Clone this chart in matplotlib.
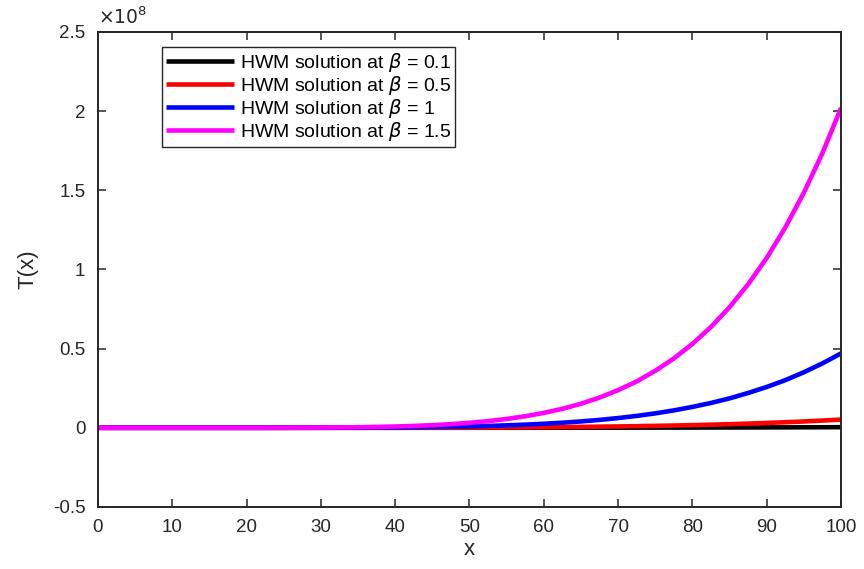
import matplotlib
matplotlib.use("Agg")
import matplotlib.pyplot as plt
from matplotlib.ticker import FuncFormatter, MultipleLocator

plt.rcParams['font.family'] = ['Liberation Sans', 'DejaVu Sans']
plt.rcParams['mathtext.fontset'] = 'dejavusans'

# x grid
x = [0, 2.5, 5, 7.5, 10, 12.5, 15, 17.5, 20, 22.5, 25, 27.5, 30, 32.5, 35, 37.5,
     40, 42.5, 45, 47.5, 50, 52.5, 55, 57.5, 60, 62.5, 65, 67.5, 70, 72.5, 75,
     77.5, 80, 82.5, 85, 87.5, 90, 92.5, 95, 97.5, 100]

# values in units of 1e8
t_b01 = [0, 0, 0, 0, 0, 0, 0, 0, 0, 0, 0, 0, 0, 0, 0, 0,
         0.0001, 0.0001, 0.0002, 0.0002, 0.00025, 0.0003, 0.0004, 0.0004, 0.0005, 0.0006,
         0.0007, 0.0008, 0.001, 0.0011, 0.0013, 0.0014, 0.0016, 0.0019, 0.0021, 0.0023,
         0.0026, 0.0029, 0.0033, 0.0036, 0.004]
t_b05 = [0, 0, 0, 0, 0, 0, 0, 0, 0, 0, 0, 0, 0.0001, 0.0002, 0.0003, 0.0004,
         0.0005, 0.0007, 0.001, 0.0013, 0.0016, 0.0021, 0.0026, 0.0033, 0.004, 0.005,
         0.006, 0.0073, 0.0087, 0.0104, 0.0123, 0.0145, 0.017, 0.0199, 0.023, 0.0267,
         0.0307, 0.0352, 0.040, 0.0458, 0.052]
t_b1 = [0, 0, 0, 0, 0, 0, 0, 0, 0, 0, 0.0001, 0.0003, 0.0005, 0.0008, 0.0012, 0.0018,
        0.0025, 0.0036, 0.005, 0.0068, 0.009, 0.0119, 0.0156, 0.020, 0.0256, 0.0323,
        0.0403, 0.050, 0.0616, 0.0752, 0.0912, 0.110, 0.132, 0.157, 0.186, 0.220,
        0.258, 0.301, 0.351, 0.407, 0.47]
t_b15 = [0, 0, 0, 0, 0, 0, 0, 0, 0, 0, 0.0005, 0.0009, 0.0015, 0.0024, 0.0037, 0.0056,
         0.0083, 0.0119, 0.0168, 0.0232, 0.0316, 0.0423, 0.0559, 0.073, 0.0942, 0.120,
         0.152, 0.191, 0.238, 0.293, 0.36, 0.438, 0.53, 0.637, 0.762, 0.907,
         1.073, 1.265, 1.485, 1.735, 2.02]

labels = [r'HWM solution at $\beta$ = 0.1', r'HWM solution at $\beta$ = 0.5',
          r'HWM solution at $\beta$ = 1', r'HWM solution at $\beta$ = 1.5']
colors = ['#000000', '#ff0000', '#0000ff', '#ff00ff']
scale = 1e8

fig = plt.figure(figsize=(8.64, 5.69), dpi=100)
ax = fig.add_axes([0.1134, 0.109, 0.86, 0.8348])

for ys, lab, c in zip([t_b01, t_b05, t_b1, t_b15], labels, colors):
    ax.plot(x, [v * scale for v in ys], color=c, lw=3.3, label=lab, solid_capstyle='butt')

ax.set_xlim(0, 100)
ax.set_ylim(-0.5e8, 2.5e8)
ax.xaxis.set_major_locator(MultipleLocator(10))
ax.yaxis.set_major_locator(MultipleLocator(0.5e8))
ax.yaxis.set_major_formatter(FuncFormatter(lambda v, p: '%g' % (v / scale)))

edge = '#262626'
for s in ax.spines.values():
    s.set_linewidth(1.4)
    s.set_color(edge)
ax.tick_params(direction='in', length=6, width=1.1, color=edge, labelsize=13.5,
               top=True, right=True, labelcolor='#262626')
ax.tick_params(axis='x', pad=9)
ax.tick_params(axis='y', pad=9)

ax.text(0.0, 1.008, r'$\times10^{8}$', transform=ax.transAxes, fontsize=13.5,
        color='#262626', ha='left', va='bottom')

ax.set_xlabel('x', fontsize=16, color='#262626', labelpad=2)
ax.set_ylabel('T(x)', fontsize=16, color='#262626', labelpad=10)

leg = ax.legend(loc='upper left', bbox_to_anchor=(0.086, 0.968), borderaxespad=0,
                fancybox=False, fontsize=14, handlelength=3.5, handletextpad=0.3,
                labelspacing=0.0, borderpad=0.2, framealpha=1)
leg.get_frame().set_edgecolor(edge)
leg.get_frame().set_linewidth(1.0)

fig.savefig('out.png', dpi=100)
